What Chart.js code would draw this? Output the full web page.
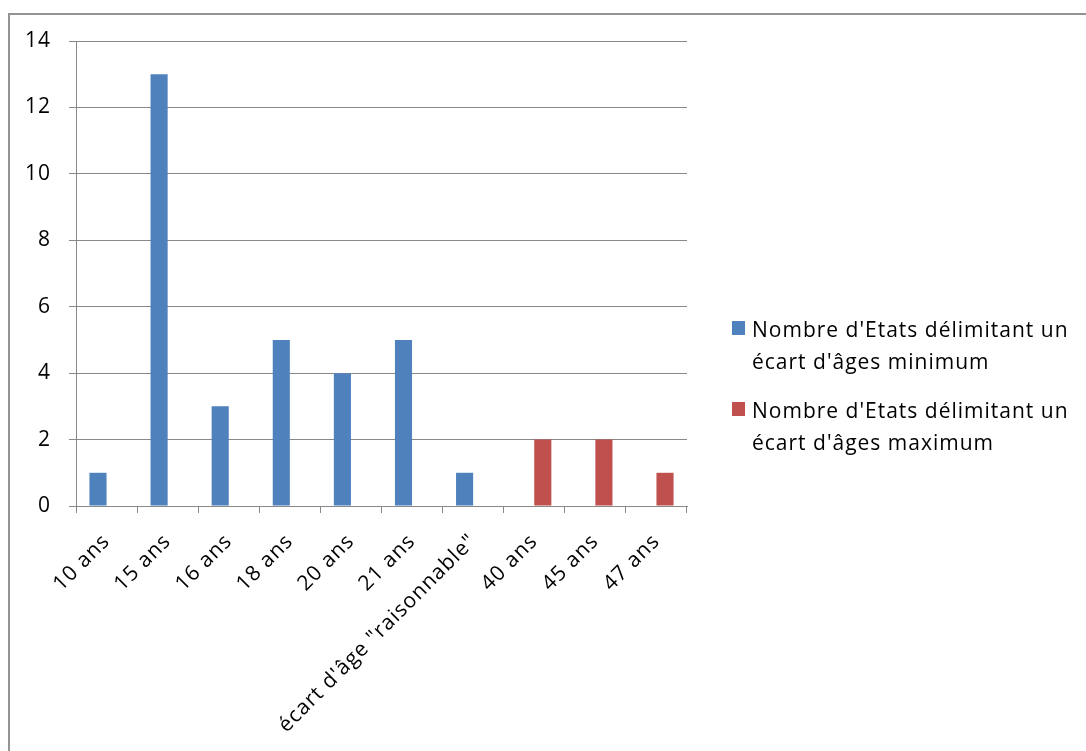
<!DOCTYPE html>
<html>
<head>
<meta charset="utf-8">
<script src="https://cdn.jsdelivr.net/npm/chart.js@4.4.1/dist/chart.umd.min.js"></script>
<style>
  body { margin: 0; background: #fff; overflow: hidden; }
  #wrap { position: relative; width: 1086px; height: 751px; overflow: hidden; }
  #frame { position: absolute; left: 8px; top: 13px; width: 1200px; height: 900px; border: 2px solid #939393; box-sizing: border-box; }
  #chart { position: absolute; left: 0; top: 0; }
  #legend { position: absolute; left: 732px; top: 313px; width: 350px; font-family: "Open Sans", sans-serif; font-size: 21px; letter-spacing: 1px; line-height: 32px; color: #000; }
  .item { position: relative; padding-left: 20px; margin-bottom: 17px; }
  .box { position: absolute; left: 0; top: 8px; width: 13px; height: 14px; }
</style>
</head>
<body>
<div id="wrap">
  <div id="frame"></div>
  <canvas id="chart" width="1086" height="751"></canvas>
  <div id="legend"></div>
</div>
<script>
const categories = ['10 ans', '15 ans', '16 ans', '18 ans', '20 ans', '21 ans', 'écart d\'âge "raisonnable"', '40 ans', '45 ans', '47 ans'];
const minimumCounts = [1, 13, 3, 5, 4, 5, 1, null, null, null];
const maximumCounts = [null, null, null, null, null, null, null, 2, 2, 1];
const seriesNames = ["Nombre d'Etats délimitant un écart d'âges minimum", "Nombre d'Etats délimitant un écart d'âges maximum"];
const seriesColors = ['#4F81BD', '#C0504D'];
const yMax = 14;
const yStep = 2;

const gridColor = '#888888';
const tickFont = { family: 'Open Sans', size: 21 };

// excel spaces its letters wider than the canvas does
const spacing = {
  id: 'spacing',
  beforeDraw: (c) => { c.ctx.letterSpacing = '1px'; }
};

const ctx = document.getElementById('chart').getContext('2d');
const chart = new Chart(ctx, {
  type: 'bar',
  data: {
    labels: categories,
    datasets: [
      { label: seriesNames[0], data: minimumCounts, backgroundColor: seriesColors[0] },
      { label: seriesNames[1], data: maximumCounts, backgroundColor: seriesColors[1] }
    ]
  },
  options: {
    responsive: false,
    animation: false,
    layout: { padding: { left: 0, top: 41, right: 399, bottom: 0 } },
    datasets: { bar: { categoryPercentage: 0.56, barPercentage: 1.0 } },
    plugins: { legend: { display: false }, tooltip: { enabled: false } },
    scales: {
      x: {
        grid: { drawOnChartArea: false, drawTicks: true, tickLength: 7, color: gridColor },
        border: { color: gridColor, width: 1 },
        ticks: { color: '#000', font: tickFont, minRotation: 45, maxRotation: 45, autoSkip: false, padding: 16 },
        afterFit: (scale) => { scale.height = 245; }
      },
      y: {
        min: 0,
        max: yMax,
        grid: { color: gridColor, tickLength: 7 },
        border: { color: gridColor, width: 1 },
        ticks: { color: '#000', font: tickFont, stepSize: yStep, padding: 18 },
        afterFit: (scale) => { scale.width = 76; }
      }
    }
  },
  plugins: [spacing]
});

// legend drawn as html so the long names can wrap on two lines
const legend = document.getElementById('legend');
chart.data.datasets.forEach((ds) => {
  const item = document.createElement('div');
  item.className = 'item';
  const box = document.createElement('span');
  box.className = 'box';
  box.style.background = ds.backgroundColor;
  item.appendChild(box);
  item.appendChild(document.createTextNode(ds.label));
  legend.appendChild(item);
});
</script>
</body>
</html>
